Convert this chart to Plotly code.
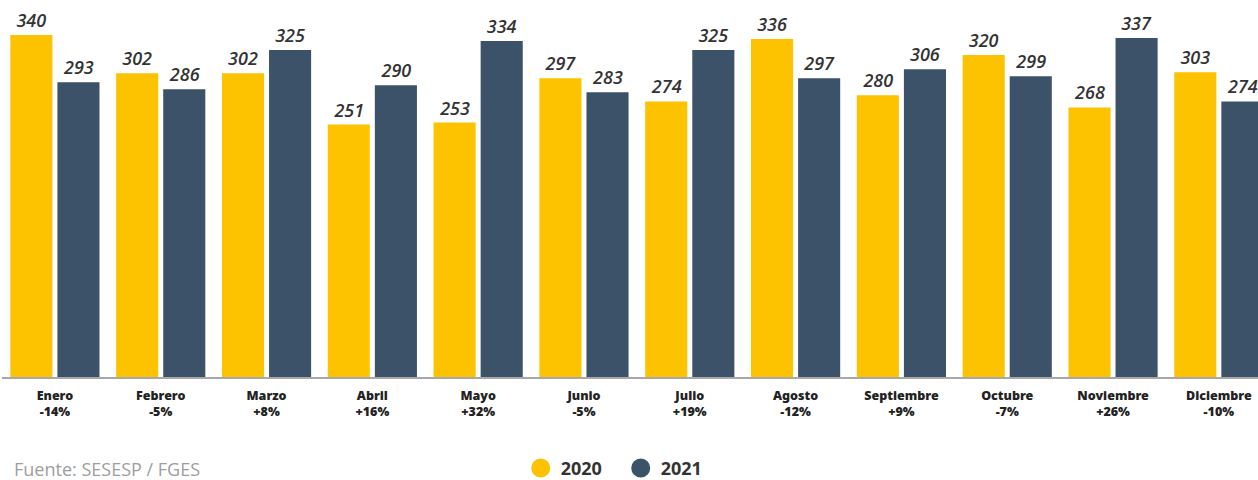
import plotly.graph_objects as go

months = ["Enero", "Febrero", "Marzo", "Abril", "Mayo", "Junio", "Julio",
          "Agosto", "Septiembre", "Octubre", "Noviembre", "Diciembre"]
changes = ["-14%", "-5%", "+8%", "+16%", "+32%", "-5%", "+19%",
           "-12%", "+9%", "-7%", "+26%", "-10%"]
values_2020 = [340, 302, 302, 251, 253, 297, 274, 336, 280, 320, 268, 303]
values_2021 = [293, 286, 325, 290, 334, 283, 325, 297, 306, 299, 337, 274]
series_names = ["2020", "2021"]

YELLOW = "#FDC300"
NAVY = "#3B5269"
TXT = "#333333"

tick_text = [f"{m}<br>{c}" for m, c in zip(months, changes)]

fig = go.Figure()
for name, vals, col in zip(series_names, [values_2020, values_2021], [YELLOW, NAVY]):
    fig.add_trace(go.Bar(
        x=list(range(len(months))), y=vals, name=name, showlegend=False,
        marker=dict(color=col, line=dict(width=0)),
        text=[str(v) for v in vals], textposition="outside",
        textfont=dict(family="Open Sans", size=18, color=TXT, weight=600, style="italic"),
        texttemplate="%{text}",
        cliponaxis=False,
    ))
for name, col in zip(series_names, [YELLOW, NAVY]):
    fig.add_trace(go.Scatter(
        x=[None], y=[None], mode="markers", name=f"<b>{name}</b>",
        marker=dict(symbol="circle", size=16, color=col, line=dict(color=col, width=3)),
        showlegend=True,
    ))

fig.update_layout(
    width=1258, height=480,
    margin=dict(l=2, r=0, t=20, b=103, autoexpand=False),
    paper_bgcolor="white", plot_bgcolor="white",
    barmode="group", bargap=0.11, bargroupgap=0.106,
    showlegend=True,
    legend=dict(orientation="h", x=0.413, xanchor="left", y=-0.256, yanchor="middle",
                font=dict(family="Open Sans", size=18, color=TXT),
                traceorder="normal",
                entrywidthmode="pixels", entrywidth=55, bgcolor="rgba(0,0,0,0)"),
    xaxis=dict(
        range=[-0.5, 11.37],
        tickmode="array", tickvals=list(range(len(months))), ticktext=tick_text,
        tickfont=dict(family="Noto Sans", size=12.5, color="#222222", weight=900),
        showgrid=False, zeroline=False,
        showline=True, linecolor="#A8A8A8", linewidth=2,
        ticks="", ticklen=0, ticklabelstandoff=6, automargin=False,
    ),
    yaxis=dict(range=[0, 354.9], visible=False, showgrid=False, zeroline=False,
               automargin=False),
    font=dict(family="Open Sans"),
)

fig.add_annotation(
    text="Fuente: SESESP / FGES", xref="paper", yref="paper",
    x=0.008, y=-0.258, xanchor="left", yanchor="middle", showarrow=False,
    font=dict(family="Open Sans", size=18, color="#9E9E9E"),
)

fig.write_html("out.html", config={"displayModeBar": False},
               post_script="document.body.style.margin='0';")
